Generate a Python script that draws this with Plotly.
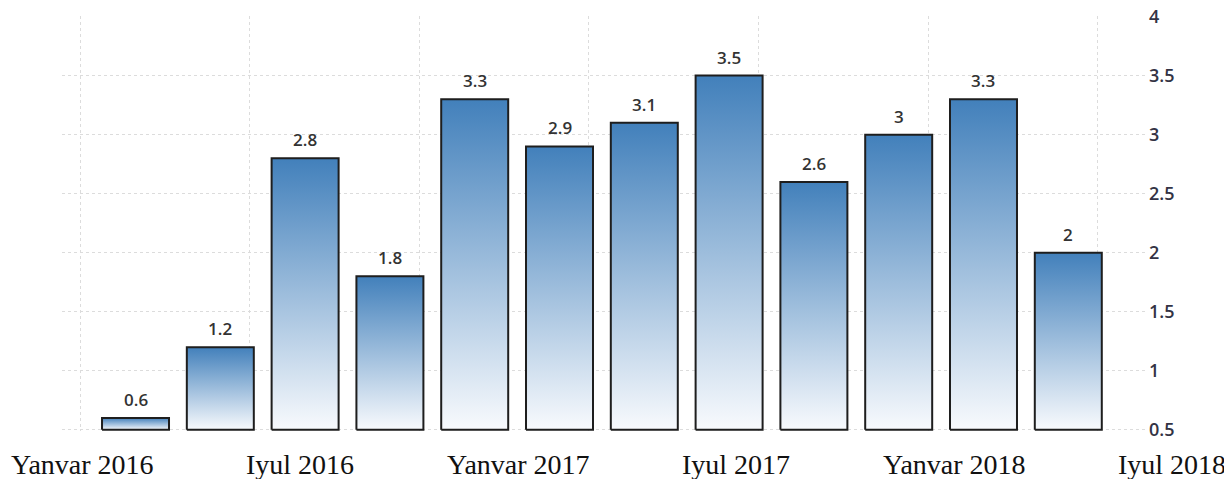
import plotly.graph_objects as go

# ---- data ----
values = [0.6, 1.2, 2.8, 1.8, 3.3, 2.9, 3.1, 3.5, 2.6, 3, 3.3, 2]
value_text = ["0.6", "1.2", "2.8", "1.8", "3.3", "2.9", "3.1", "3.5", "2.6", "3", "3.3", "2"]
x_labels = ["Yanvar 2016", "Iyul 2016", "Yanvar 2017", "Iyul 2017", "Yanvar 2018", "Iyul 2018"]
y_ticks = [0.5, 1, 1.5, 2, 2.5, 3, 3.5, 4]
y_tick_text = ["0.5", "1", "1.5", "2", "2.5", "3", "3.5", "4"]

# ---- layout / style settings ----
# the page body has an 8px margin, so the figure is sized/offset to compensate
W, H = 1224, 471
L, R, T, B = 54, 84, 8, 48
Y_MIN, Y_MAX = 0.5, 4
BAR_W = 0.79
X_RANGE = [-0.867, 11.94]
GRID_X0, GRID_DX = -0.654, 2
LABEL_X0, LABEL_STEP = -0.625, 2.57   # label slots, in bar-index units
TOP_COLOR = "#4280bb"
BOTTOM_COLOR = "#f8fafd"
GRID_COLOR = "#dcdcdc"


def x_to_paper(xv):
    return (xv - X_RANGE[0]) / (X_RANGE[1] - X_RANGE[0])


fig = go.Figure()

for i, v in enumerate(values):
    x0, x1 = i - BAR_W / 2, i + BAR_W / 2
    fig.add_trace(go.Scatter(
        x=[x0, x0, x1, x1, x0],
        y=[Y_MIN, v, v, Y_MIN, Y_MIN],
        mode="lines",
        fill="toself",
        fillgradient=dict(type="vertical",
                          colorscale=[[0, BOTTOM_COLOR], [1, TOP_COLOR]]),
        line=dict(color="#1e1e1e", width=2),
        hoverinfo="skip",
        showlegend=False,
    ))

annotations = []
for i, (v, t) in enumerate(zip(values, value_text)):
    annotations.append(dict(
        x=i, y=v, xref="x", yref="y", text=t, showarrow=False,
        xanchor="center", yanchor="bottom", yshift=5,
        font=dict(family="Open Sans", size=17, color="#333333", weight=600),
    ))

for k, lab in enumerate(x_labels):
    annotations.append(dict(
        x=x_to_paper(LABEL_X0 + LABEL_STEP * k), y=0, xref="paper", yref="paper",
        text=lab, showarrow=False,
        xanchor="center", yanchor="top", yshift=-16,
        font=dict(family="Liberation Serif", size=28, color="#111111"),
    ))

fig.update_layout(
    width=W, height=H,
    margin=dict(l=L, r=R, t=T, b=B, autoexpand=False),
    paper_bgcolor="white", plot_bgcolor="white",
    annotations=annotations,
    xaxis=dict(
        range=X_RANGE, tick0=GRID_X0, dtick=GRID_DX, tickmode="linear",
        showticklabels=False, ticks="", automargin=False,
        showgrid=True, gridcolor=GRID_COLOR, griddash="dot", gridwidth=1,
        zeroline=False, showline=False,
    ),
    yaxis=dict(
        range=[0.49, 4.005], side="right", automargin=False,
        tickmode="array", tickvals=y_ticks, ticktext=y_tick_text,
        ticks="", ticklabeloverflow="allow",
        showgrid=True, gridcolor=GRID_COLOR, griddash="dot", gridwidth=1,
        zeroline=False, showline=False,
        tickfont=dict(family="Open Sans", size=18, color="#333344", weight=600),
    ),
)

fig.write_html("out.html")
